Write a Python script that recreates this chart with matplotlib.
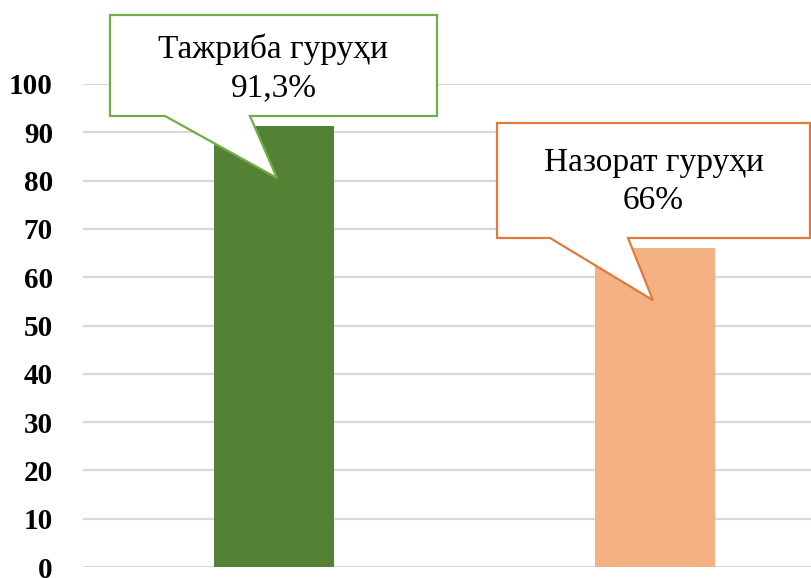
import matplotlib
matplotlib.use("Agg")
import matplotlib.pyplot as plt
from matplotlib.patches import Polygon

categories = ["Тажриба гуруҳи", "Назорат гуруҳи"]
values = [91.3, 66]
value_labels = ["91,3%", "66%"]
bar_colors = ["#548235", "#F4B183"]
edge_colors = ["#70AD47", "#E07B39"]
yticks = [0, 10, 20, 30, 40, 50, 60, 70, 80, 90, 100]

W, H = 812, 578
fig = plt.figure(figsize=(W / 100, H / 100), dpi=100)
ax_left, ax_right, ax_bottom, ax_top = 83.5, 845.5, 567, 84
ax = fig.add_axes([ax_left / W, (H - ax_bottom) / H,
                   (ax_right - ax_left) / W, (ax_bottom - ax_top) / H])
ax.set_xlim(-0.5, 1.5)
ax.set_ylim(0, 100)

ax.bar(range(len(values)), values, width=0.315, color=bar_colors, zorder=2)

ax.set_yticks(yticks)
ax.set_yticklabels([str(t) for t in yticks], fontfamily="Liberation Serif",
                   fontweight="bold", fontsize=21)
ax.tick_params(axis="y", length=0, pad=22)
ax.set_xticks([])
ax.yaxis.grid(True, color="#D9D9D9", linewidth=1.6, zorder=0)
ax.set_axisbelow(True)
for s in ax.spines.values():
    s.set_visible(False)

def px2data(px, py):
    x = -0.5 + (px - ax_left) / (ax_right - ax_left) * 2.0
    y = (ax_bottom - py) / (ax_bottom - ax_top) * 100
    return (x, y)

def data2px(x, y):
    px = ax_left + (x + 0.5) / 2.0 * (ax_right - ax_left)
    py = ax_bottom - y / 100 * (ax_bottom - ax_top)
    return px, py

# callout geometry (pixels, relative layout)
callouts = [
    dict(box=(110, 15, 437, 116), base=(165, 250), tip_dx=3, tip_dy=52, text_y=(49, 88)),
    dict(box=(497, 123, 810, 238), base=(550, 628), tip_dx=-2, tip_dy=52, text_y=(163, 201)),
]

for i, (cat, v, lab, ec, c) in enumerate(zip(categories, values, value_labels, edge_colors, callouts)):
    bx0, by0, bx1, by1 = c["box"]
    cx, top_py = data2px(i, v)
    tip = (cx + c["tip_dx"], top_py + c["tip_dy"])
    pts = [(bx0, by0), (bx1, by0), (bx1, by1), (c["base"][1], by1), tip,
           (c["base"][0], by1), (bx0, by1)]
    poly = Polygon([px2data(*p) for p in pts], closed=True, facecolor="white",
                   edgecolor=ec, linewidth=1.6, zorder=5, clip_on=False)
    ax.add_patch(poly)
    tx = (bx0 + bx1) / 2
    ax.text(*px2data(tx, c["text_y"][0]), cat, ha="center", va="center",
            fontfamily="Liberation Serif", fontsize=24, zorder=6, clip_on=False)
    ax.text(*px2data(tx, c["text_y"][1]), lab, ha="center", va="center",
            fontfamily="Liberation Serif", fontsize=24, zorder=6, clip_on=False)

fig.savefig("out.png", dpi=100)
